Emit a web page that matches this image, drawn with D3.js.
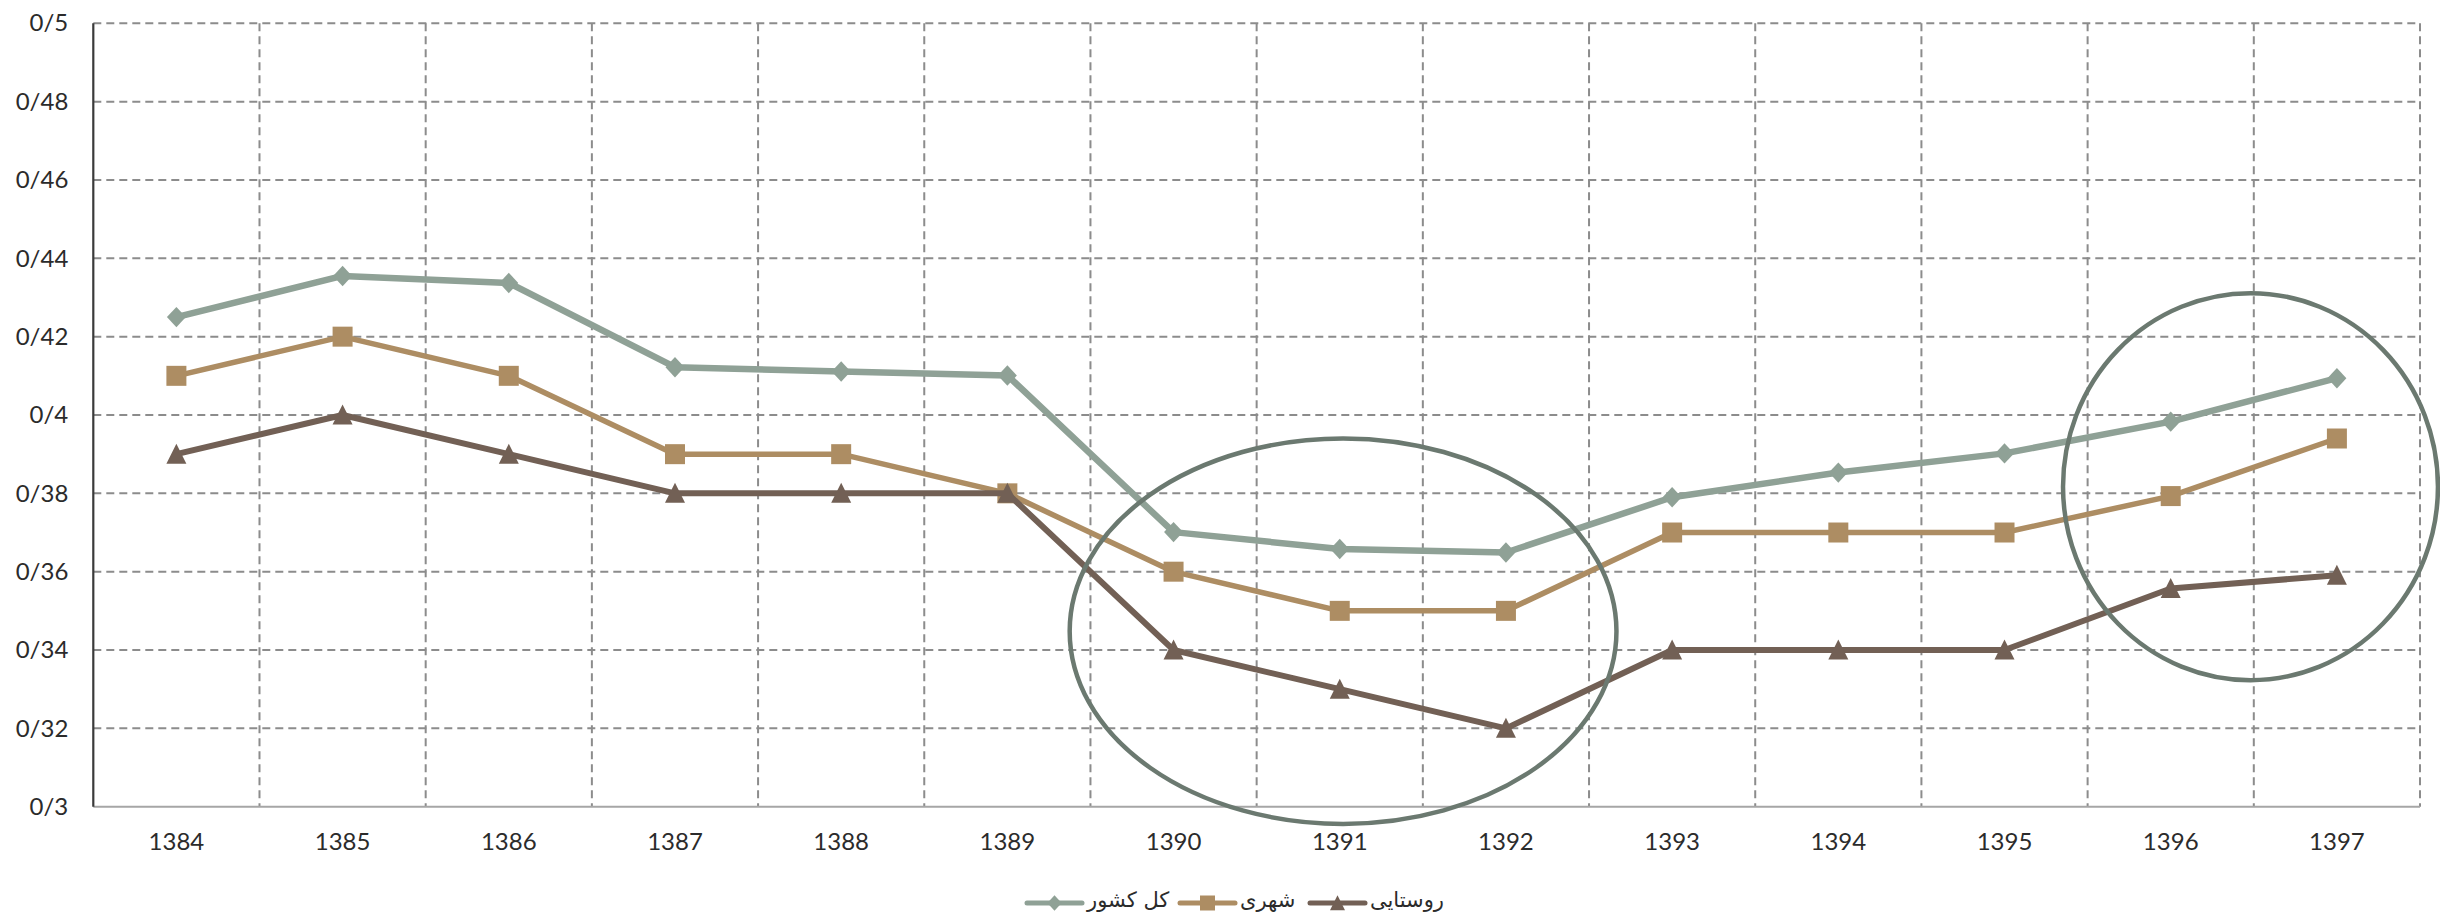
<!DOCTYPE html>
<html>
<head>
<meta charset="utf-8">
<script src="https://cdn.jsdelivr.net/npm/d3@7/dist/d3.min.js"></script>
<style>
  html, body { margin: 0; padding: 0; background: #ffffff; }
  svg { display: block; }
</style>
</head>
<body>
<svg id="chart" width="2440" height="914"></svg>
<script>
// ---------- DATA ----------
const years = ["1384","1385","1386","1387","1388","1389","1390","1391","1392","1393","1394","1395","1396","1397"];
const seriesNames = ["کل کشور", "شهری", "روستایی"];
const totalValues = [0.425, 0.4355, 0.4337, 0.4122, 0.4111, 0.4101, 0.3701, 0.3658, 0.3649, 0.3790, 0.3853, 0.3902, 0.3983, 0.4094];
const urbanValues = [0.41, 0.42, 0.41, 0.39, 0.39, 0.38, 0.36, 0.35, 0.35, 0.37, 0.37, 0.37, 0.3793, 0.394];
const ruralValues = [0.39, 0.40, 0.39, 0.38, 0.38, 0.38, 0.34, 0.33, 0.32, 0.34, 0.34, 0.34, 0.3557, 0.3591];
const yTickValues = [0.30, 0.32, 0.34, 0.36, 0.38, 0.40, 0.42, 0.44, 0.46, 0.48, 0.50];
const yTickLabels = ["0/3", "0/32", "0/34", "0/36", "0/38", "0/4", "0/42", "0/44", "0/46", "0/48", "0/5"];
// annotation ellipses in data space: centre position (band units), centre value, radii
const ellipseCentreYears = [7.52, 12.98];
const ellipseCentreValues = [0.3448, 0.3817];
const ellipseRadiusBands = [1.645, 1.128];
const ellipseRadiusValues = [0.0492, 0.0494];

// ---------- STYLE ----------
const colors = ["#8fa196", "#ad8d63", "#726055"];
const lineWidths = [6.5, 5.5, 6];
const shapes = ["diamond", "square", "triangle"];

const svg = d3.select("#chart");
const pLeft = 93.3, pRight = 2420, pTop = 23.3, pBottom = 806.7;

const x = d3.scaleBand().domain(years).range([pLeft, pRight]).paddingInner(0).paddingOuter(0);
const y = d3.scaleLinear().domain([0.3, 0.5]).range([pBottom, pTop]);
const bw = x.bandwidth();
const xb = d3.scaleLinear().domain([0, years.length]).range([pLeft, pRight]);

const gridColor = "#8c8c8c";

// horizontal gridlines
svg.append("g").selectAll("line").data(yTickValues.filter(v => v > 0.3)).join("line")
  .attr("x1", pLeft).attr("x2", pRight)
  .attr("y1", d => y(d)).attr("y2", d => y(d))
  .attr("stroke", gridColor).attr("stroke-width", 2).attr("stroke-dasharray", "8,5");

// vertical gridlines at category boundaries
svg.append("g").selectAll("line").data(years).join("line")
  .attr("x1", d => x(d) + bw).attr("x2", d => x(d) + bw)
  .attr("y1", pTop).attr("y2", pBottom)
  .attr("stroke", gridColor).attr("stroke-width", 2).attr("stroke-dasharray", "8,5");

// bottom axis
const xAxis = d3.axisBottom(x).tickSize(0).tickPadding(0);
const gx = svg.append("g").attr("transform", `translate(0,${pBottom})`).call(xAxis);
gx.select(".domain").attr("stroke", "#a6a6a6").attr("stroke-width", 2).attr("d", `M${pLeft},0H${pRight}`);
gx.selectAll(".tick text")
  .attr("dy", null).attr("y", 43)
  .attr("font-family", "Lato, 'Open Sans', sans-serif").attr("font-size", 24).attr("fill", "#2b2b2b");

// left axis
const yAxis = d3.axisLeft(y).tickValues(yTickValues).tickFormat((d, i) => yTickLabels[i]).tickSize(0).tickPadding(25);
const gy = svg.append("g").attr("transform", `translate(${pLeft},0)`).call(yAxis);
gy.select(".domain").attr("stroke", "#3a3a3a").attr("stroke-width", 2.2).attr("d", `M0,${pTop}V${pBottom}`);
gy.selectAll(".tick text")
  .attr("font-family", "Lato, 'Open Sans', sans-serif").attr("font-size", 24).attr("fill", "#2b2b2b");

function markerPath(shape, s) {
  if (shape === "diamond") return `M0,${-s*1.02}L${s*0.95},0L0,${s*1.02}L${-s*0.95},0Z`;
  if (shape === "square") return `M${-s},${-s}H${s}V${s}H${-s}Z`;
  return `M0,${-s*1.05}L${s},${s*0.95}L${-s},${s*0.95}Z`;
}

const allSeries = [totalValues, urbanValues, ruralValues];
const line = d3.line().x((d, i) => x(years[i]) + bw / 2).y(d => y(d));

allSeries.forEach((vals, si) => {
  const g = svg.append("g");
  g.append("path").attr("d", line(vals))
    .attr("fill", "none").attr("stroke", colors[si]).attr("stroke-width", lineWidths[si])
    .attr("stroke-linejoin", "round").attr("stroke-linecap", "round");
  g.selectAll("path.m").data(vals).join("path").attr("class", "m")
    .attr("transform", (d, i) => `translate(${x(years[i]) + bw / 2},${y(d)})`)
    .attr("d", markerPath(shapes[si], 10))
    .attr("fill", colors[si]);
});

// annotation ellipses
svg.append("g").selectAll("ellipse").data(ellipseCentreYears).join("ellipse")
  .attr("cx", d => xb(d))
  .attr("cy", (d, i) => y(ellipseCentreValues[i]))
  .attr("rx", (d, i) => xb(ellipseRadiusBands[i]) - xb(0))
  .attr("ry", (d, i) => y(0.3) - y(0.3 + ellipseRadiusValues[i]))
  .attr("fill", "none").attr("stroke", "#6b7970").attr("stroke-width", 4.5);

// legend
const legendX = [1027, 1180, 1310];
const legendY = 903;
const lg = svg.append("g");
seriesNames.forEach((name, si) => {
  const gi = lg.append("g").attr("transform", `translate(${legendX[si]},${legendY})`);
  gi.append("line").attr("x1", 0).attr("x2", 55).attr("y1", 0).attr("y2", 0)
    .attr("stroke", colors[si]).attr("stroke-width", 5).attr("stroke-linecap", "round");
  gi.append("path").attr("transform", "translate(27.5,0)").attr("d", markerPath(shapes[si], 7.5)).attr("fill", colors[si]);
  gi.append("text").attr("x", 60).attr("y", 0).attr("dy", "0.2em")
    .attr("font-family", "'DejaVu Sans', 'Noto Sans', sans-serif").attr("font-size", 21)
    .attr("fill", "#2b2b2b").text(name);
});
</script>
</body>
</html>
